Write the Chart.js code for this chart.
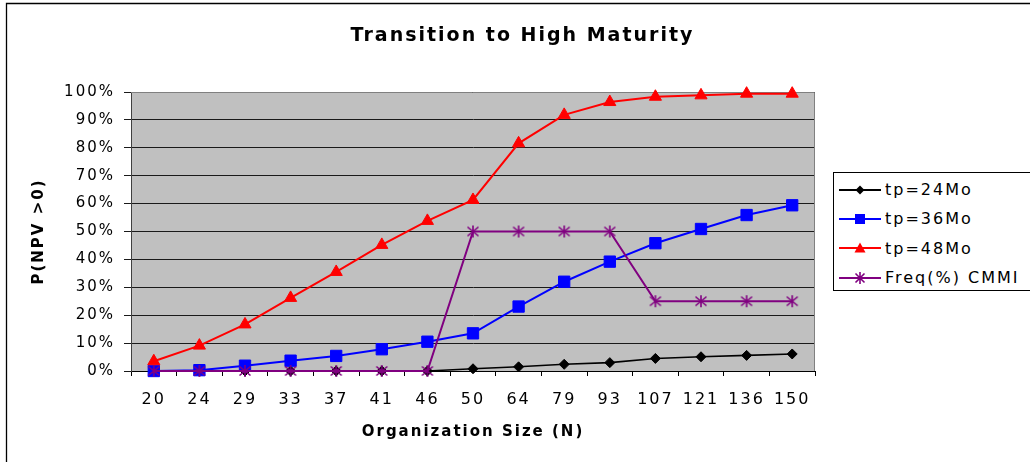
<!DOCTYPE html>
<html><head><meta charset="utf-8">
<script src="https://cdn.jsdelivr.net/npm/chart.js@4"></script>
<style>
html,body{margin:0;padding:0;background:#fff;}
#wrap{position:relative;width:1030px;height:462px;overflow:hidden;background:#fff;}
#legend{position:absolute;left:833px;top:172px;width:230px;height:119px;border:1px solid #000;background:#fff;font-family:"DejaVu Sans";font-size:16px;letter-spacing:2px;color:#000;box-sizing:border-box;padding-top:2px;}
.row{height:29.3px;display:flex;align-items:center;white-space:nowrap;}
.row svg{margin-left:5px;margin-right:4px;flex:none;}
</style></head>
<body><div id="wrap"><canvas id="c" width="1030" height="462"></canvas><div id="legend"></div></div>
<script>
// ---- data ----
const categories = ['20','24','29','33','37','41','46','50','64','79','93','107','121','136','150'];
const tp24 = [0,0,0,0,0,0,0,0.8,1.5,2.4,3.0,4.5,5.1,5.6,6.1];
const tp36 = [0,0.3,1.9,3.7,5.4,7.8,10.5,13.5,23.1,32.0,39.2,45.8,50.9,55.9,59.4];
const tp48 = [3.5,9.1,16.7,26.2,35.5,45.2,53.8,61.3,81.6,91.8,96.4,98.3,98.8,99.4,99.4];
const freqCMMI = [0,0,0,0,0,0,0,50,50,50,50,25,25,25,25];
const seriesNames = ['tp=24Mo','tp=36Mo','tp=48Mo','Freq(%) CMMI'];
const titleText = 'Transition to High Maturity';
const xTitle = 'Organization Size (N)';
const yTitle = 'P(NPV >0)';

// star marker (X with vertical bar)
function makeStar(color, size, lw){
  const c = document.createElement('canvas');
  c.width = size; c.height = size;
  const g = c.getContext('2d');
  g.strokeStyle = color; g.lineWidth = lw;
  const m = 1.5, s = size - 1.5;
  g.beginPath();
  g.moveTo(m,m+1); g.lineTo(s,s-1);
  g.moveTo(s,m+1); g.lineTo(m,s-1);
  g.moveTo(size/2,m-0.5); g.lineTo(size/2,s+0.5);
  g.stroke();
  return c;
}
const starImg = makeStar('#800080', 14, 1.6);

const SP = '2px';
const spacingPlugin = {
  id:'spacing',
  beforeUpdate(chart){ chart.ctx.letterSpacing = SP; },
  beforeLayout(chart){ chart.ctx.letterSpacing = SP; },
  beforeDraw(chart){ chart.ctx.letterSpacing = SP; }
};
const bgPlugin = {
  id:'bg',
  beforeDraw(chart){
    const {ctx, chartArea:a} = chart;
    ctx.save();
    ctx.fillStyle = '#fff';
    ctx.fillRect(0,0,chart.width,chart.height);
    ctx.fillStyle = '#C0C0C0';
    ctx.fillRect(a.left, a.top, a.right-a.left, a.bottom-a.top);
    ctx.restore();
  },
  beforeDatasetsDraw(chart){
    const {ctx, chartArea:a} = chart;
    ctx.save();
    ctx.strokeStyle = '#808080'; ctx.lineWidth = 1;
    ctx.beginPath();
    ctx.moveTo(a.left, a.top+0.5); ctx.lineTo(a.right-0.5, a.top+0.5); ctx.lineTo(a.right-0.5, a.bottom);
    ctx.stroke();
    ctx.restore();
  },
  afterDraw(chart){
    const ctx = chart.ctx;
    ctx.save();
    ctx.strokeStyle = '#000'; ctx.lineWidth = 1.3;
    ctx.beginPath();
    ctx.moveTo(6.5, 462); ctx.lineTo(6.5, 3.5); ctx.lineTo(1030, 3.5);
    ctx.stroke();
    ctx.restore();
  }
};

const chart = new Chart(document.getElementById('c'), {
  type:'line',
  data:{
    labels: categories,
    datasets:[
      {label:seriesNames[0], data:tp24, borderColor:'#000', backgroundColor:'#000', pointStyle:'rectRot', pointRadius:5, pointBorderWidth:1, borderWidth:1.6, order:3, clip:false},
      {label:seriesNames[1], data:tp36, borderColor:'#0000FF', backgroundColor:'#0000FF', pointStyle:'rect', pointRadius:8, pointBorderWidth:1, borderWidth:2, order:2, clip:false},
      {label:seriesNames[2], data:tp48, borderColor:'#FF0000', backgroundColor:'#FF0000', pointStyle:'triangle', pointRadius:7, pointBorderWidth:1, borderWidth:2, order:1, clip:false},
      {label:seriesNames[3], data:freqCMMI, borderColor:'#800080', backgroundColor:'#800080', pointStyle:starImg, pointRadius:7, borderWidth:2, order:0, clip:false}
    ]
  },
  options:{
    responsive:false, animation:false, devicePixelRatio:1,
    layout:{padding:{left:15,right:0,top:0,bottom:0}},
    elements:{line:{tension:0}},
    plugins:{
      legend:{display:false},
      tooltip:{enabled:false},
      title:{display:true, text:titleText, color:'#000', font:{family:'DejaVu Sans', size:19, weight:'bold'}, padding:{top:24.6, bottom:44.6}}
    },
    scales:{
      x:{
        type:'category', offset:true,
        grid:{offset:true, drawOnChartArea:false, drawTicks:true, tickLength:5, color:'#000'},
        border:{color:'#000', width:1},
        ticks:{color:'#000', font:{family:'DejaVu Sans', size:16}, padding:14.4, autoSkip:false, maxRotation:0},
        title:{display:true, text:xTitle, color:'#000', font:{family:'DejaVu Sans', size:15, weight:'bold'}, padding:{top:0,bottom:21}},
        afterFit(s){ s.height = 91; }
      },
      y:{
        type:'linear', min:0, max:100,
        grid:{color:'#1a1a1a', tickLength:7, lineWidth:1},
        border:{color:'#404040', width:1},
        ticks:{stepSize:10, color:'#000', font:{family:'DejaVu Sans', size:15}, padding:9, callback:v=>v+'%'},
        title:{display:true, text:yTitle, color:'#000', font:{family:'DejaVu Sans', size:15, weight:'bold'}, padding:{top:15,bottom:0}},
        afterFit(s){ s.width = 116; }
      },
      yR:{
        type:'linear', position:'right', display:true,
        grid:{display:false, drawTicks:false}, border:{display:false}, ticks:{display:false},
        afterFit(s){ s.width = 215; }
      }
    }
  },
  plugins:[spacingPlugin, bgPlugin]
});

// HTML legend built from the chart datasets
function markerSvg(ds){
  const c = ds.borderColor;
  let m = '';
  if (ds.pointStyle === 'rectRot') m = `<polygon points="21,2.5 25.5,7 21,11.5 16.5,7" fill="${c}"/>`;
  else if (ds.pointStyle === 'rect') m = `<rect x="16" y="2" width="10" height="10" fill="${c}"/>`;
  else if (ds.pointStyle === 'triangle') m = `<polygon points="21,1.5 26.5,11.5 15.5,11.5" fill="${c}"/>`;
  else m = `<path d="M16.5,2.5 L25.5,11.5 M25.5,2.5 L16.5,11.5 M21,1 L21,13" stroke="${c}" stroke-width="1.6" fill="none"/>`;
  return `<svg width="42" height="14" viewBox="0 0 42 14"><line x1="0" y1="7" x2="42" y2="7" stroke="${c}" stroke-width="2"/>${m}</svg>`;
}
document.getElementById('legend').innerHTML = chart.data.datasets.map(ds =>
  `<div class="row">${markerSvg(ds)}<span>${ds.label}</span></div>`).join('');
</script>
</body></html>
